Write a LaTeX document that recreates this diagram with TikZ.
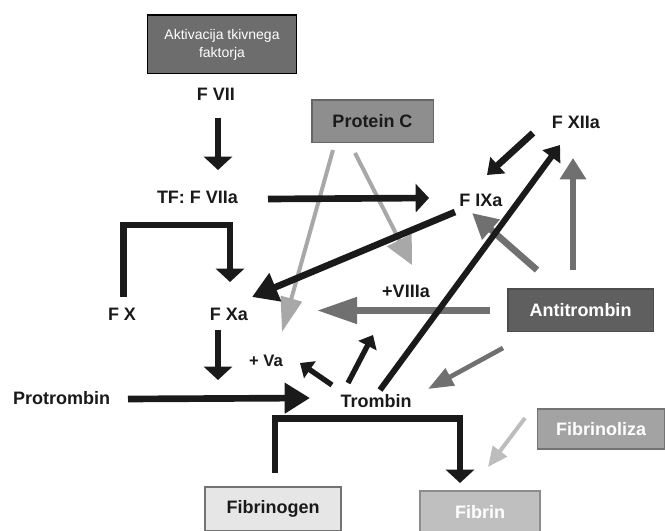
\documentclass[tikz,border=0pt]{standalone}
\usepackage{fontspec}
\setmainfont{Liberation Sans}
\usetikzlibrary{arrows.meta}

\definecolor{txtblack}{HTML}{1A1A1A}
\definecolor{boxdark}{HTML}{6D6D6D}
\definecolor{boxmid}{HTML}{8E8E8E}
\definecolor{boxanti}{HTML}{5F5F5F}
\definecolor{boxfl}{HTML}{A3A3A3}
\definecolor{boxfib}{HTML}{BFBFBF}
\definecolor{boxfg}{HTML}{E6E6E6}
\definecolor{antigray}{HTML}{707070}
\definecolor{pcgray}{HTML}{A8A8A8}
\definecolor{flgray}{HTML}{BDBDBD}

\begin{document}
\begin{tikzpicture}[x=0.75pt, y=-0.75pt,
lbl/.style= {inner sep=0pt, text=txtblack, font=\bfseries\fontsize{13.5}{16}\selectfont},
box/.style= {rectangle, draw=black!70, line width=1pt, inner sep=0pt, align=center, font=\bfseries\fontsize{13.5}{16}\selectfont},
blk/.style= {draw=txtblack, line width=5pt, -{Triangle[width=21pt, length=10pt]}},
bigblk/.style= {blk, -{Triangle[width=22pt, length=19pt]}},
smallblk/.style= {draw=txtblack, line width=4pt, -{Triangle[width=15pt, length=9pt]}},
anti/.style= {draw=antigray, line width=5pt, -{Triangle[width=19pt, length=19pt]}},
pc/.style= {draw=pcgray, line width=3pt, -{Triangle[width=18pt, length=22pt]}} ]
\useasboundingbox (0,0) rectangle (665,531);

\node (akt) [box, fill=boxdark, draw=black, text=white, minimum width=112pt, minimum height=44pt,
  font=\fontsize{10.5}{13.5}\selectfont] at (222,44.5) {Aktivacija tkivnega\\faktorja};
\node (fvii) [lbl] at (216,94) {F VII};
\node (tf) [lbl] at (197.5,197.5) {TF: F VIIa};
\node (fixa) [lbl] at (481,200) {F IXa};
\node (fxiia) [lbl] at (576,122.5) {F XIIa};
\node (pc) [box, fill=boxmid, draw=black!60, text=txtblack, minimum width=91pt, minimum height=32pt] at (372.5,121.5) {Protein C};
\node (fx) [lbl] at (122,314) {F X};
\node (fxa) [lbl] at (229,314) {F Xa};
\node (va) [lbl, font=\bfseries\fontsize{12.5}{15}\selectfont] at (266,361) {+ Va};
\node (viiia) [lbl] at (406,291.5) {+VIIIa};
\node (protr) [lbl] at (61.5,398.5) {Protrombin};
\node (trombin) [lbl] at (376,401.5) {Trombin};
\node (anti) [box, fill=boxanti, text=white, minimum width=109pt, minimum height=32pt] at (580.5,310.5) {Antitrombin};
\node (fibrinoliza) [box, fill=boxfl, draw=black!55, text=white, minimum width=95pt, minimum height=30pt] at (601,429) {Fibrinoliza};
\node (fibrin) [box, fill=boxfib, draw=black!45, text=white, minimum width=90pt, minimum height=31.5pt] at (480,512) {Fibrin};
\node (fibrinogen) [box, fill=boxfg, draw=black!55, text=txtblack, minimum width=102pt, minimum height=33pt] at (273,509) {Fibrinogen};
\coordinate (xaend) at (218,380);

\path ([shift={(-90.5,0)}]anti.center) edge[anti, -{Triangle[width=19pt, length=30pt]}] ([shift={(88,-3.5)}]fxa.center);
\path ([shift={(-43.5,-40.5)}]anti.center) edge[anti] ([shift={(-9,13)}]fixa.center);
\path ([shift={(-7.5,-40.5)}]anti.center) edge[anti, -{Triangle[width=19pt, length=16pt]}] ([shift={(-3,35.5)}]fxiia.center);
\path ([shift={(-77.5,37.5)}]anti.center) edge[anti, line width=3.5pt, -{Triangle[width=14pt, length=19pt]}] ([shift={(52,-12.5)}]trombin.center);
\path ([shift={(-39.5,28.5)}]pc.center) edge[pc, -{Triangle[width=16pt, length=26pt]}] ([shift={(16,-29)}]va.center);
\path ([shift={(-17.5,31.5)}]pc.center) edge[pc, -{Triangle[width=20pt, length=21pt]}] ([shift={(6,-26.5)}]viiia.center);
\path ([shift={(-76,-11)}]fibrinoliza.center) edge[pc, draw=flgray, -{Triangle[width=13pt, length=15pt]}] ([shift={(8,-45)}]fibrin.center);

\path ([shift={(2,24)}]fvii.center) edge[blk] ([shift={(20.5,-27.5)}]tf.center);
\path ([shift={(70.5,1.5)}]tf.center) edge[blk] ([shift={(-52,-2)}]fixa.center);
\draw[blk] ([shift={(1.5,-17)}]fx.center) -- ++(0,-72) -| ([shift={(1,-32)}]fxa.center);
\path ([shift={(-11,16)}]fxa.center) edge[blk] (xaend);
\path ([shift={(66.5,0.5)}]protr.center) edge[bigblk] ([shift={(-66,-3.5)}]trombin.center);
\path ([shift={(-26,12)}]fixa.center) edge[bigblk] ([shift={(23,-17)}]fxa.center);
\path ([shift={(-43,10.5)}]fxiia.center) edge[blk, -{Triangle[width=16pt, length=11pt]}] ([shift={(6,-25)}]fixa.center);
\path ([shift={(4,-11.5)}]trombin.center) edge[blk, line width=4.5pt, -{Triangle[width=16pt, length=11pt]}] ([shift={(-16,22.5)}]fxiia.center);
\path ([shift={(-28,-18.5)}]trombin.center) edge[smallblk] ([shift={(-33,43.5)}]viiia.center);
\path ([shift={(-44,-16.5)}]trombin.center) edge[smallblk] ([shift={(34,2)}]va.center);
\draw[blk] ([shift={(2,-36)}]fibrinogen.center) -- ++(0,-54.5) -| ([shift={(-20,-29)}]fibrin.center);
\end{tikzpicture}
\end{document}
